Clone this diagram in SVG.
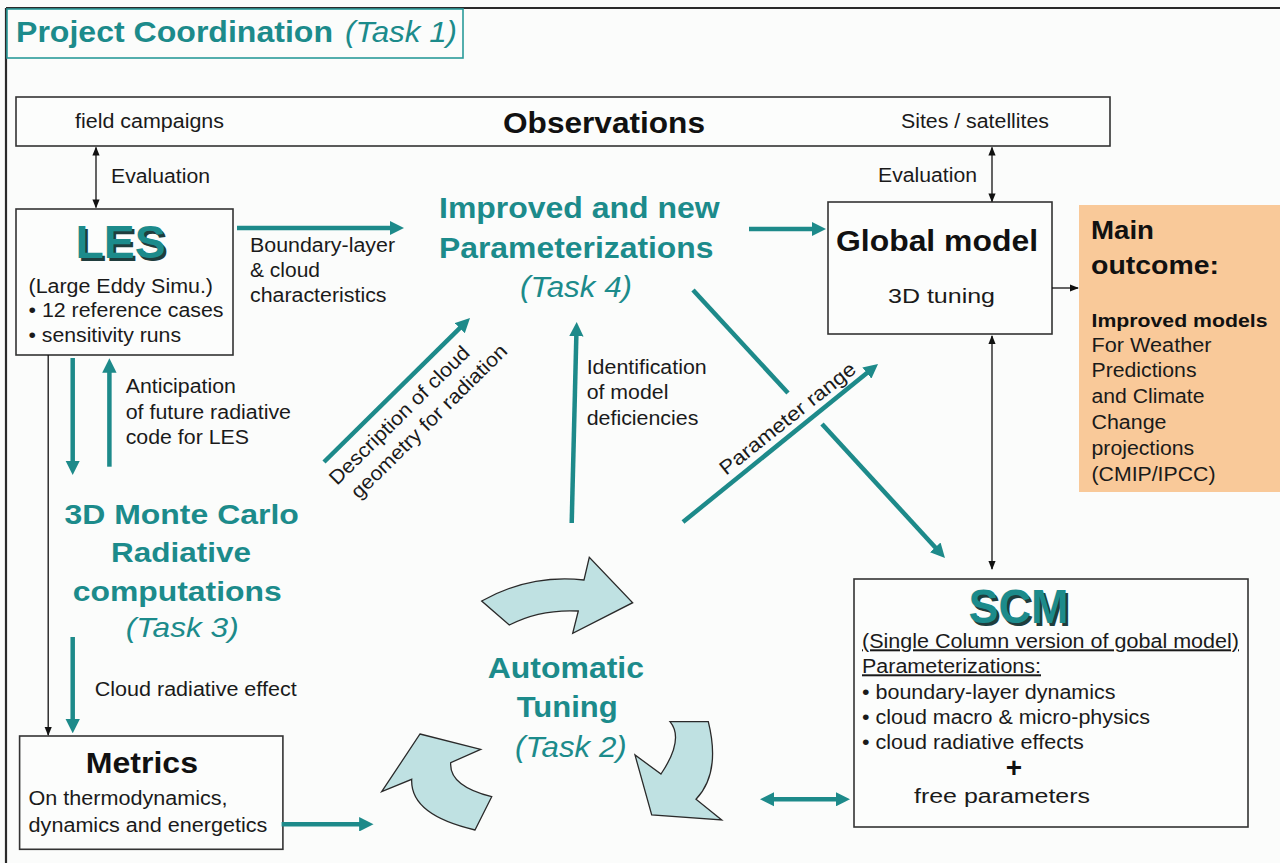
<svg xmlns="http://www.w3.org/2000/svg" width="1280" height="863" viewBox="0 0 1280 863">
<style>
text{font-family:"Liberation Sans",Arial,sans-serif;}
.s{font-size:20px;fill:#1a1a1a;}
.tb{font-weight:bold;fill:#1c8b8b;}
.ti{font-style:italic;fill:#1c8b8b;}
.kb{font-weight:bold;fill:#111;}
.box{fill:#fcfdfc;stroke:#333;stroke-width:1.6;}
.ta{stroke:#1d8a8a;stroke-width:4.5;fill:none;marker-end:url(#ah);}
.ta2{stroke:#1d8a8a;stroke-width:4.5;fill:none;marker-end:url(#ah);marker-start:url(#ah);}
.tl{stroke:#1d8a8a;stroke-width:4.5;fill:none;}
.ba{stroke:#111;stroke-width:1.3;fill:none;marker-end:url(#bh);}
.ba2{stroke:#111;stroke-width:1.3;fill:none;marker-end:url(#bh);marker-start:url(#bh);}
.cur{fill:#bfe1e2;stroke:#2a2a2a;stroke-width:1.3;stroke-linejoin:miter;}
.sh{font-weight:bold;fill:#1f3d3d;}
</style>
<defs>
<marker id="ah" viewBox="0 0 10 10" refX="2" refY="5" markerWidth="3.2" markerHeight="3.2" orient="auto-start-reverse" markerUnits="strokeWidth"><path d="M0,0 L10,5 L0,10 z" fill="#1d8a8a"/></marker>
<marker id="bh" viewBox="0 0 10 10" refX="9" refY="5" markerWidth="9" markerHeight="9" orient="auto-start-reverse" markerUnits="userSpaceOnUse"><path d="M0,1 L10,5 L0,9 z" fill="#111"/></marker>
</defs>
<rect x="0" y="0" width="1280" height="863" fill="#fbfcfb"/>
<g id="frame">
<line x1="6" y1="8" x2="1280" y2="8" stroke="#2a2a2a" stroke-width="2.2"/>
<line x1="6" y1="8" x2="6" y2="863" stroke="#2a2a2a" stroke-width="2.2"/>
</g>
<g id="title">
<rect x="7" y="9" width="456" height="49" fill="#fbfcfb" stroke="#2a9a9a" stroke-width="1.6"/>
<text class="tb" x="16" y="42" font-size="30" textLength="317" lengthAdjust="spacingAndGlyphs">Project Coordination</text>
<text class="ti" x="345" y="42" font-size="30" textLength="112" lengthAdjust="spacingAndGlyphs">(Task 1)</text>
</g>
<g id="observations">
<rect class="box" x="16" y="97" width="1094" height="49"/>
<text class="s" x="75" y="128" textLength="149" lengthAdjust="spacingAndGlyphs">field campaigns</text>
<text class="kb" x="503" y="133" font-size="29" textLength="202" lengthAdjust="spacingAndGlyphs">Observations</text>
<text class="s" x="901" y="128" textLength="148" lengthAdjust="spacingAndGlyphs">Sites / satellites</text>
</g>
<g id="les">
<rect class="box" x="16" y="209" width="217" height="146"/>
<text class="sh" x="78" y="260.5" font-size="46" textLength="90" lengthAdjust="spacingAndGlyphs">LES</text>
<text class="tb" x="75.5" y="258" font-size="46" textLength="90" lengthAdjust="spacingAndGlyphs">LES</text>
<text class="s" x="28.5" y="293" textLength="184.5" lengthAdjust="spacingAndGlyphs">(Large Eddy Simu.)</text>
<text class="s" x="28.5" y="317" textLength="195" lengthAdjust="spacingAndGlyphs">• 12 reference cases</text>
<text class="s" x="28.5" y="342" textLength="152.5" lengthAdjust="spacingAndGlyphs">• sensitivity runs</text>
</g>
<g id="improved">
<text class="tb" x="439" y="218" font-size="29" textLength="280.6" lengthAdjust="spacingAndGlyphs">Improved and new</text>
<text class="tb" x="439" y="258" font-size="29" textLength="274.5" lengthAdjust="spacingAndGlyphs">Parameterizations</text>
<text class="ti" x="520" y="297" font-size="29" textLength="112" lengthAdjust="spacingAndGlyphs">(Task 4)</text>
</g>
<g id="global">
<rect class="box" x="828" y="202" width="224" height="132"/>
<text class="kb" x="836" y="251" font-size="29" textLength="202" lengthAdjust="spacingAndGlyphs">Global model</text>
<text class="s" x="888" y="303" textLength="107" lengthAdjust="spacingAndGlyphs">3D tuning</text>
</g>
<g id="main-outcome">
<rect x="1079" y="205" width="201" height="287" fill="#f9c999"/>
<text class="kb" x="1091" y="238.5" font-size="25" textLength="63" lengthAdjust="spacingAndGlyphs">Main</text>
<text class="kb" x="1091" y="273.5" font-size="25" textLength="128" lengthAdjust="spacingAndGlyphs">outcome:</text>
<text class="kb" x="1091.5" y="326.7" font-size="18.5" textLength="176" lengthAdjust="spacingAndGlyphs">Improved models</text>
<text class="s" x="1091.5" y="351.7" font-size="18.5" textLength="120" lengthAdjust="spacingAndGlyphs">For Weather</text>
<text class="s" x="1091.5" y="377" font-size="18.5" textLength="105" lengthAdjust="spacingAndGlyphs">Predictions</text>
<text class="s" x="1091.5" y="403" font-size="18.5" textLength="113" lengthAdjust="spacingAndGlyphs">and Climate</text>
<text class="s" x="1091.5" y="429" font-size="18.5" textLength="75" lengthAdjust="spacingAndGlyphs">Change</text>
<text class="s" x="1091.5" y="455" font-size="18.5" textLength="102.7" lengthAdjust="spacingAndGlyphs">projections</text>
<text class="s" x="1091.5" y="480.5" font-size="18.5" textLength="124" lengthAdjust="spacingAndGlyphs">(CMIP/IPCC)</text>
</g>
<g id="montecarlo">
<text class="tb" x="64.5" y="524" font-size="28" textLength="234.3" lengthAdjust="spacingAndGlyphs">3D Monte Carlo</text>
<text class="tb" x="111" y="561.7" font-size="28" textLength="140" lengthAdjust="spacingAndGlyphs">Radiative</text>
<text class="tb" x="72.7" y="600.7" font-size="28" textLength="209" lengthAdjust="spacingAndGlyphs">computations</text>
<text class="ti" x="125.7" y="637.3" font-size="28" textLength="113" lengthAdjust="spacingAndGlyphs">(Task 3)</text>
</g>
<g id="metrics">
<rect class="box" x="19.6" y="736" width="263.3" height="113.3"/>
<text class="kb" x="85.7" y="773.3" font-size="29" textLength="112.3" lengthAdjust="spacingAndGlyphs">Metrics</text>
<text class="s" x="28.6" y="805" textLength="199" lengthAdjust="spacingAndGlyphs">On thermodynamics,</text>
<text class="s" x="28.6" y="831.7" textLength="238.7" lengthAdjust="spacingAndGlyphs">dynamics and energetics</text>
</g>
<g id="automatic-tuning">
<path class="cur" d="M481.7,601 Q530,574 584,580 L589.3,557.3 L632.7,602.7 L572.7,633.3 L578.3,611 Q540,609 509.3,625 Z"/>
<path class="cur" d="M420,734 L480.7,749.3 L450.7,762.7 Q449,786 491.7,796.7 L475,830 Q410,815 411.7,779.3 L381.7,791.7 Z"/>
<path class="cur" d="M670,721.7 L708.3,721.7 Q721,773 696,799.3 L721.7,820 L651.7,815 L635,755 L661,774 Q684.5,739 670,721.7 Z"/>
<text class="tb" x="487.7" y="677.7" font-size="30" textLength="156.3" lengthAdjust="spacingAndGlyphs">Automatic</text>
<text class="tb" x="516.7" y="716.7" font-size="30" textLength="101" lengthAdjust="spacingAndGlyphs">Tuning</text>
<text class="ti" x="515" y="756.7" font-size="30" textLength="111.7" lengthAdjust="spacingAndGlyphs">(Task 2)</text>
</g>
<g id="scm">
<rect class="box" x="854" y="579" width="394" height="248"/>
<text class="sh" x="971" y="625.5" font-size="48" textLength="100" lengthAdjust="spacingAndGlyphs">SCM</text>
<text class="tb" x="968.6" y="623" font-size="48" textLength="100" lengthAdjust="spacingAndGlyphs">SCM</text>
<text class="s" x="862" y="648.3" font-size="19.5" text-decoration="underline" textLength="377" lengthAdjust="spacingAndGlyphs">(Single Column version of gobal model)</text>
<text class="s" x="862" y="673.3" font-size="19.5" text-decoration="underline" textLength="179" lengthAdjust="spacingAndGlyphs">Parameterizations:</text>
<text class="s" x="862" y="699" font-size="19.5" textLength="253.5" lengthAdjust="spacingAndGlyphs">• boundary-layer dynamics</text>
<text class="s" x="862" y="724" font-size="19.5" textLength="288" lengthAdjust="spacingAndGlyphs">• cloud macro &amp; micro-physics</text>
<text class="s" x="862" y="749.3" font-size="19.5" textLength="221.7" lengthAdjust="spacingAndGlyphs">• cloud radiative effects</text>
<text class="kb" x="1014" y="777" font-size="28" text-anchor="middle">+</text>
<text class="s" x="914" y="803.3" font-size="22" textLength="176" lengthAdjust="spacingAndGlyphs">free parameters</text>
</g>
<g id="connectors">
<line class="ba2" x1="96" y1="147.5" x2="96" y2="207.5"/>
<line class="ba2" x1="992" y1="147.5" x2="992" y2="201.5"/>
<line class="ba" x1="1052" y1="288" x2="1078" y2="288"/>
<line class="ba2" x1="992" y1="336" x2="992" y2="569"/>
<line class="ba" x1="48.2" y1="355" x2="48.2" y2="735"/>
<line class="ta" x1="237" y1="228" x2="392.5" y2="228"/>
<line class="ta" x1="749" y1="229" x2="814.5" y2="229"/>
<line class="ta" x1="571.7" y1="523" x2="576.4" y2="333.5"/>
<line class="ta" x1="324" y1="462" x2="461.8" y2="326.1"/>
<line class="ta" x1="683" y1="522" x2="869.1" y2="371.2"/>
<line class="tl" x1="693" y1="290" x2="788" y2="393"/>
<line class="ta" x1="822" y1="424" x2="937.2" y2="549.5"/>
<line class="ta" x1="72.7" y1="358" x2="72.7" y2="463.5"/>
<line class="ta" x1="109.4" y1="466.7" x2="109.4" y2="369.8"/>
<line class="ta" x1="72.7" y1="637" x2="72.7" y2="721.8"/>
<line class="ta" x1="281.6" y1="824.3" x2="362" y2="824.3"/>
<line class="ta2" x1="771.5" y1="799.3" x2="838.5" y2="799.3"/>
<text class="s" x="111" y="182.7" textLength="99" lengthAdjust="spacingAndGlyphs">Evaluation</text>
<text class="s" x="878" y="181.7" textLength="99" lengthAdjust="spacingAndGlyphs">Evaluation</text>
<text class="s" x="250" y="252" textLength="145" lengthAdjust="spacingAndGlyphs">Boundary-layer</text>
<text class="s" x="250" y="277" textLength="70" lengthAdjust="spacingAndGlyphs">&amp; cloud</text>
<text class="s" x="250" y="302" textLength="136.5" lengthAdjust="spacingAndGlyphs">characteristics</text>
<text class="s" x="586.7" y="374" font-size="19.5" textLength="120" lengthAdjust="spacingAndGlyphs">Identification</text>
<text class="s" x="586.7" y="399" font-size="19.5" textLength="81.7" lengthAdjust="spacingAndGlyphs">of model</text>
<text class="s" x="586.7" y="425" font-size="19.5" textLength="111.7" lengthAdjust="spacingAndGlyphs">deficiencies</text>
<text class="s" x="125.7" y="393.3" font-size="19.5" textLength="110.2" lengthAdjust="spacingAndGlyphs">Anticipation</text>
<text class="s" x="125.7" y="419.3" font-size="19.5" textLength="165.3" lengthAdjust="spacingAndGlyphs">of future radiative</text>
<text class="s" x="125.7" y="444" font-size="19.5" textLength="123.3" lengthAdjust="spacingAndGlyphs">code for LES</text>
<text class="s" x="94.7" y="696" font-size="19.5" textLength="202" lengthAdjust="spacingAndGlyphs">Cloud radiative effect</text>
<g transform="translate(337,486) rotate(-44.5)">
<text class="s" x="0" y="0" textLength="188" lengthAdjust="spacingAndGlyphs">Description of cloud</text>
<text class="s" x="6" y="25" textLength="210" lengthAdjust="spacingAndGlyphs">geometry for radiation</text>
</g>
<text class="s" transform="translate(726,476) rotate(-38.5)" x="0" y="0" font-size="19.5" textLength="168" lengthAdjust="spacingAndGlyphs">Parameter range</text>
</g>
</svg>
